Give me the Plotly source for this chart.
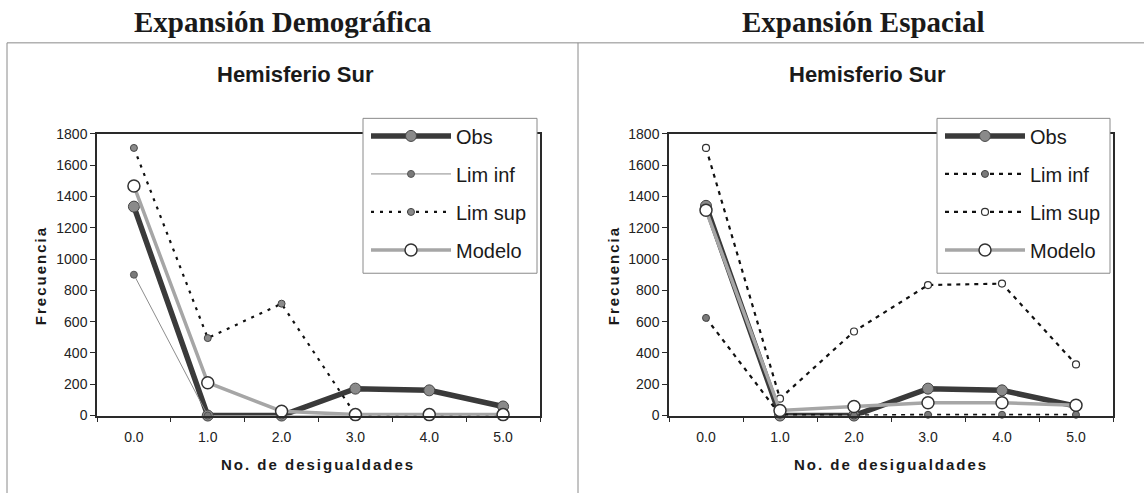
import plotly.graph_objects as go

W, H = 1144, 501

categorias = ["0.0", "1.0", "2.0", "3.0", "4.0", "5.0"]

# Expansión Demográfica
dem_obs = [1335, 0, 0, 172, 161, 58]
dem_lim_inf = [900, 0, 0, 0, 0, 0]
dem_lim_sup = [1710, 495, 715, 5, 5, 5]
dem_modelo = [1467, 210, 28, 6, 6, 6]

# Expansión Espacial
esp_obs = [1340, 0, 0, 172, 161, 60]
esp_lim_inf = [624, 5, 0, 5, 5, 5]
esp_lim_sup = [1710, 108, 537, 834, 843, 327]
esp_modelo = [1312, 32, 58, 82, 82, 66]

nombres = ["Obs", "Lim inf", "Lim sup", "Modelo"]
y_ticks = list(range(0, 1801, 200))

SANS = "Liberation Sans, Arial, sans-serif"
SERIF = "Liberation Serif, Times New Roman, serif"


def px_x(p):
    return p / W


def px_y(p):
    return 1 - p / H


fig = go.Figure()


def add_series(xa, ya, leg, series, styles):
    for (name, vals), st in zip(zip(nombres, series), styles):
        fig.add_trace(go.Scatter(
            x=categorias, y=vals, name=name, mode="lines+markers",
            xaxis=xa, yaxis=ya, legend=leg, legendgroup=leg + name,
            line=st["line"], marker=st["marker"], cliponaxis=False,
        ))


obs_style = dict(line=dict(color="#3a3a3a", width=5.5),
                 marker=dict(symbol="circle", size=11, color="#8a8a8a",
                             line=dict(color="#444444", width=1)))
modelo_style = dict(line=dict(color="#a6a6a6", width=3.5),
                    marker=dict(symbol="circle", size=12, color="white",
                                line=dict(color="#333333", width=1.5)))

dem_styles = [
    obs_style,
    dict(line=dict(color="#8c8c8c", width=1),
         marker=dict(size=7, color="#7a7a7a", line=dict(color="#555", width=1))),
    dict(line=dict(color="#111111", width=2.2, dash="3px,6px"),
         marker=dict(size=7, color="#8a8a8a", line=dict(color="#444", width=1))),
    modelo_style,
]
esp_styles = [
    obs_style,
    dict(line=dict(color="#111111", width=2.2, dash="4px,5px"),
         marker=dict(size=7, color="#7a7a7a", line=dict(color="#444", width=1))),
    dict(line=dict(color="#111111", width=2.2, dash="4px,5px"),
         marker=dict(size=7, color="white", line=dict(color="#333", width=1.2))),
    modelo_style,
]

add_series("x", "y", "legend", [dem_obs, dem_lim_inf, dem_lim_sup, dem_modelo], dem_styles)
add_series("x2", "y2", "legend2", [esp_obs, esp_lim_inf, esp_lim_sup, esp_modelo], esp_styles)

axis_common = dict(showline=True, linecolor="#2a2a2a", linewidth=1.5, mirror=True,
                   showgrid=False, zeroline=False, ticks="outside", ticklen=5,
                   tickcolor="#2a2a2a", tickfont=dict(family=SANS, size=14, color="#222"))

y_dom = [px_y(421), px_y(130)]

layout_axes = dict(
    xaxis=dict(domain=[px_x(97), px_x(540)], anchor="y", type="category",
               range=[-0.5, 5.5], tickson="boundaries", ticklabelstandoff=8, **axis_common),
    yaxis=dict(domain=y_dom, anchor="x", range=[0, 1800], tickvals=y_ticks, **axis_common),
    xaxis2=dict(domain=[px_x(669), px_x(1113)], anchor="y2", type="category",
                range=[-0.5, 5.5], tickson="boundaries", ticklabelstandoff=8, **axis_common),
    yaxis2=dict(domain=y_dom, anchor="x2", range=[0, 1800], tickvals=y_ticks, **axis_common),
)

legend_common = dict(bgcolor="rgba(0,0,0,0)", borderwidth=0,
                     font=dict(family=SANS, size=20, color="#1a1a1a"),
                     xanchor="left", yanchor="top", tracegroupgap=9, itemwidth=80)

annotations = []


def text(x, y, s, size, family, bold=True, angle=0):
    annotations.append(dict(
        x=px_x(x), y=px_y(y), xref="paper", yref="paper", showarrow=False,
        text=f"<b>{s}</b>" if bold else s, textangle=angle,
        font=dict(family=family, size=size, color="#1a1a1a"),
        xanchor="center", yanchor="middle"))


text(283, 14, "Expansión Demográfica", 29, SERIF)
text(863, 14, "Expansión Espacial", 29, SERIF)
text(295, 69, "Hemisferio Sur", 22, SANS)
text(867, 69, "Hemisferio Sur", 22, SANS)
text(318, 472, "No. de desigualdades", 15, SANS)
text(891, 472, "No. de desigualdades", 15, SANS)
text(40, 276, "Frecuencia", 15, SANS, angle=-90)
text(613, 276, "Frecuencia", 15, SANS, angle=-90)

frame = dict(color="#8a8a8a", width=1)
shapes = [
    dict(type="line", xref="paper", yref="paper", x0=px_x(7), x1=1, y0=px_y(36), y1=px_y(36), line=frame),
    dict(type="line", xref="paper", yref="paper", x0=px_x(7), x1=px_x(7), y0=px_y(36), y1=0, line=frame),
    dict(type="line", xref="paper", yref="paper", x0=px_x(578), x1=px_x(578), y0=px_y(36), y1=0, line=frame),
    # legend boxes
    dict(type="rect", xref="paper", yref="paper", layer="above",
         x0=px_x(363), x1=px_x(537), y0=px_y(274), y1=px_y(114),
         fillcolor="white", line=dict(color="#8a8a8a", width=1)),
    dict(type="rect", xref="paper", yref="paper", layer="above",
         x0=px_x(937), x1=px_x(1110), y0=px_y(274), y1=px_y(114),
         fillcolor="white", line=dict(color="#8a8a8a", width=1)),
]

fig.update_layout(
    width=W, height=H, margin=dict(l=0, r=0, t=0, b=0),
    paper_bgcolor="white", plot_bgcolor="white", showlegend=True,
    legend=dict(x=px_x(366), y=px_y(112), **legend_common),
    legend2=dict(x=px_x(940), y=px_y(112), **legend_common),
    annotations=annotations, shapes=shapes, **layout_axes,
)

# widen the letter spacing of the axis titles
spacing_js = """
var gd = document.getElementById('{plot_id}');
function spread() {
  gd.querySelectorAll('text').forEach(function (t) {
    var s = t.textContent;
    if (s === 'No. de desigualdades' || s === 'Frecuencia') {
      t.style.letterSpacing = '2px';
    }
  });
}
spread();
gd.on('plotly_afterplot', spread);
"""

fig.write_html("out.html", post_script=spacing_js)
